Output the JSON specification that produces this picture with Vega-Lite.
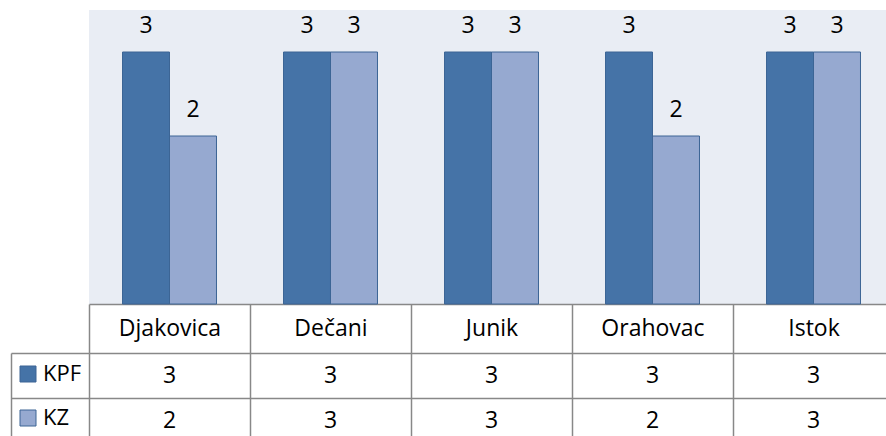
{
  "$schema": "https://vega.github.io/schema/vega-lite/v6.json",
  "background": "white",
  "padding": {"left": 10, "top": 10, "right": 0, "bottom": 0},
  "spacing": 49,
  "bounds": "flush",
  "config": {
    "font": "Open Sans",
    "view": {"stroke": null}
  },
  "datasets": {
    "votes": [
      {"opstina": "Djakovica", "stranka": "KPF", "vrednost": 3},
      {"opstina": "Djakovica", "stranka": "KZ", "vrednost": 2},
      {"opstina": "Dečani", "stranka": "KPF", "vrednost": 3},
      {"opstina": "Dečani", "stranka": "KZ", "vrednost": 3},
      {"opstina": "Junik", "stranka": "KPF", "vrednost": 3},
      {"opstina": "Junik", "stranka": "KZ", "vrednost": 3},
      {"opstina": "Orahovac", "stranka": "KPF", "vrednost": 3},
      {"opstina": "Orahovac", "stranka": "KZ", "vrednost": 2},
      {"opstina": "Istok", "stranka": "KPF", "vrednost": 3},
      {"opstina": "Istok", "stranka": "KZ", "vrednost": 3}
    ]
  },
  "vconcat": [
    {
      "width": 805,
      "height": 294,
      "view": {"fill": "#E9EDF4", "stroke": null},
      "data": {"name": "votes"},
      "encoding": {
        "x": {
          "field": "opstina", "type": "nominal", "sort": null,
          "scale": {"paddingInner": 0, "paddingOuter": 0},
          "axis": {
            "title": null, "labelAngle": 0, "labelFontSize": 23, "labelColor": "#000000",
            "labelBaseline": "middle", "labelPadding": -24.5,
            "tickBand": "extent", "tickSize": 49, "tickColor": "#888888", "tickWidth": 1.5,
            "domainColor": "#888888", "domainWidth": 1.5, "grid": false
          }
        },
        "xOffset": {
          "field": "stranka", "type": "nominal", "sort": ["KPF", "KZ"],
          "scale": {"paddingInner": 0, "paddingOuter": 0.7128}
        },
        "y": {
          "field": "vrednost", "type": "quantitative",
          "scale": {"domain": [0, 3.5]}, "axis": null
        }
      },
      "layer": [
        {
          "mark": {"type": "bar", "stroke": "#3C6595", "strokeWidth": 1},
          "encoding": {
            "color": {
              "field": "stranka", "type": "nominal",
              "scale": {"domain": ["KPF", "KZ"], "range": ["#4573A7", "#96A9D0"]},
              "legend": {
                "title": null, "orient": "none", "legendX": -72, "legendY": 353,
                "direction": "vertical", "symbolType": "square", "symbolSize": 256,
                "symbolStrokeColor": "#3C6595", "symbolStrokeWidth": 1,
                "labelFontSize": 22, "labelColor": "#000000", "labelOffset": 4,
                "rowPadding": 22, "padding": 0
              }
            }
          }
        },
        {
          "mark": {"type": "text", "baseline": "middle", "dy": -26, "fontSize": 23, "color": "#000000"},
          "encoding": {"text": {"field": "vrednost", "type": "quantitative"}}
        }
      ]
    },
    {
      "width": 805,
      "height": 90,
      "data": {"name": "votes"},
      "mark": {"type": "text", "fontSize": 23, "color": "#000000", "baseline": "middle"},
      "encoding": {
        "x": {
          "field": "opstina", "type": "nominal", "sort": null,
          "scale": {"paddingInner": 0, "paddingOuter": 0},
          "axis": {
            "title": null, "labels": false, "ticks": false, "domain": false,
            "grid": true, "tickBand": "extent", "gridColor": "#888888", "gridWidth": 1.5
          }
        },
        "y": {
          "field": "stranka", "type": "nominal", "sort": ["KPF", "KZ"],
          "scale": {"paddingInner": 0, "paddingOuter": 0},
          "axis": {
            "title": null, "labels": false, "offset": 78, "tickSize": -78,
            "tickBand": "extent", "tickColor": "#888888", "tickWidth": 1.5,
            "domainColor": "#888888", "domainWidth": 1.5,
            "grid": true, "gridColor": "#888888", "gridWidth": 1.5
          }
        },
        "text": {"field": "vrednost", "type": "quantitative"}
      }
    }
  ]
}
